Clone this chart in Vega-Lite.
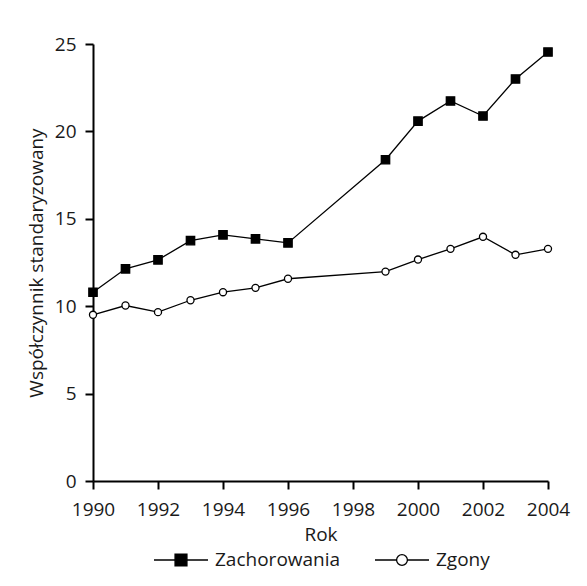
{
  "$schema": "https://vega.github.io/schema/vega-lite/v6.json",
  "width": 455,
  "height": 437,
  "autosize": {"type": "none"},
  "padding": {"left": 93, "top": 44, "right": 39, "bottom": 105},
  "background": "white",
  "config": {
    "view": {"stroke": null},
    "font": "Open Sans",
    "axis": {
      "grid": false,
      "domainColor": "black",
      "domainWidth": 2,
      "tickColor": "black",
      "tickWidth": 2,
      "tickSize": 8,
      "labelFontSize": 19,
      "labelColor": "#1a1a1a",
      "titleFontSize": 19,
      "titleFontWeight": "normal",
      "titleColor": "#1a1a1a"
    }
  },
  "data": {
    "values": [
      {"rok": 1990, "seria": "Zachorowania", "wartosc": 10.8},
      {"rok": 1991, "seria": "Zachorowania", "wartosc": 12.14},
      {"rok": 1992, "seria": "Zachorowania", "wartosc": 12.65},
      {"rok": 1993, "seria": "Zachorowania", "wartosc": 13.75},
      {"rok": 1994, "seria": "Zachorowania", "wartosc": 14.08},
      {"rok": 1995, "seria": "Zachorowania", "wartosc": 13.85},
      {"rok": 1996, "seria": "Zachorowania", "wartosc": 13.62},
      {"rok": 1999, "seria": "Zachorowania", "wartosc": 18.38},
      {"rok": 2000, "seria": "Zachorowania", "wartosc": 20.59},
      {"rok": 2001, "seria": "Zachorowania", "wartosc": 21.74},
      {"rok": 2002, "seria": "Zachorowania", "wartosc": 20.88},
      {"rok": 2003, "seria": "Zachorowania", "wartosc": 23.0},
      {"rok": 2004, "seria": "Zachorowania", "wartosc": 24.54},
      {"rok": 1990, "seria": "Zgony", "wartosc": 9.51},
      {"rok": 1991, "seria": "Zgony", "wartosc": 10.04},
      {"rok": 1992, "seria": "Zgony", "wartosc": 9.66},
      {"rok": 1993, "seria": "Zgony", "wartosc": 10.34},
      {"rok": 1994, "seria": "Zgony", "wartosc": 10.8},
      {"rok": 1995, "seria": "Zgony", "wartosc": 11.05},
      {"rok": 1996, "seria": "Zgony", "wartosc": 11.57},
      {"rok": 1999, "seria": "Zgony", "wartosc": 11.98},
      {"rok": 2000, "seria": "Zgony", "wartosc": 12.67},
      {"rok": 2001, "seria": "Zgony", "wartosc": 13.28},
      {"rok": 2002, "seria": "Zgony", "wartosc": 13.97},
      {"rok": 2003, "seria": "Zgony", "wartosc": 12.94},
      {"rok": 2004, "seria": "Zgony", "wartosc": 13.28}
    ]
  },
  "encoding": {
    "x": {
      "field": "rok",
      "type": "quantitative",
      "scale": {"domain": [1990, 2004], "nice": false, "zero": false},
      "axis": {"values": [1990, 1992, 1994, 1996, 1998, 2000, 2002, 2004], "format": "d", "title": "Rok", "labelPadding": 11, "titlePadding": 6, "labelFlush": false}
    },
    "y": {
      "field": "wartosc",
      "type": "quantitative",
      "scale": {"domain": [0, 25], "nice": false},
      "axis": {"values": [0, 5, 10, 15, 20, 25], "title": "Współczynnik standaryzowany", "labelPadding": 9, "titlePadding": 8}
    }
  },
  "layer": [
    {
      "mark": {"type": "line", "color": "black", "strokeWidth": 1.3},
      "encoding": {"detail": {"field": "seria"}}
    },
    {
      "mark": {"type": "point", "filled": true, "stroke": "black", "strokeWidth": 1.3, "opacity": 1},
      "encoding": {
        "shape": {
          "condition": {"test": "datum.seria === 'Zgony'", "value": "circle"},
          "value": "square"
        },
        "fill": {
          "condition": {"test": "datum.seria === 'Zgony'", "value": "white"},
          "value": "black"
        },
        "size": {
          "condition": {"test": "datum.seria === 'Zgony'", "value": 50},
          "value": 70
        }
      }
    },
    {
      "mark": {"type": "point", "filled": true, "strokeWidth": 1.3, "opacity": 0},
      "encoding": {
        "shape": {
          "field": "seria",
          "type": "nominal",
          "scale": {
            "domain": ["Zachorowania", "Zgony"],
            "range": [
              "M-1 0H-0.22M0.22 0H1M-0.22 -0.22H0.22V0.22H-0.22Z",
              "M-1 0H-0.2M0.2 0H1M-0.2 0A0.2 0.2 0 1 1 0.2 0A0.2 0.2 0 1 1 -0.2 0Z"
            ]
          },
          "legend": {
            "title": null,
            "orient": "none",
            "direction": "horizontal",
            "legendX": 60,
            "legendY": 488,
            "symbolSize": 2916,
            "symbolOpacity": 1,
            "symbolStrokeWidth": 1.3,
            "symbolStrokeColor": "black",
            "labelFontSize": 19,
            "labelColor": "#1a1a1a",
            "labelOffset": 6,
            "columnPadding": 31
          }
        },
        "fill": {
          "field": "seria",
          "type": "nominal",
          "scale": {"domain": ["Zachorowania", "Zgony"], "range": ["black", "white"]}
        },
        "stroke": {
          "field": "seria",
          "type": "nominal",
          "scale": {"domain": ["Zachorowania", "Zgony"], "range": ["black", "black"]}
        }
      }
    }
  ]
}
